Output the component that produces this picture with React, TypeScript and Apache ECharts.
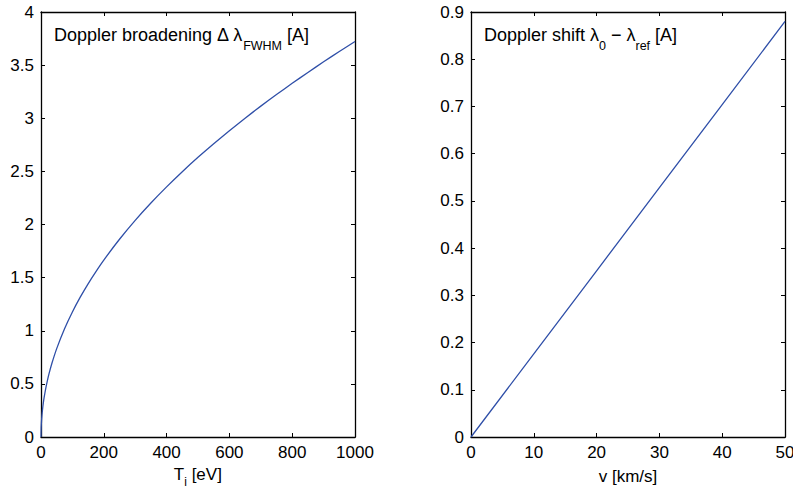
import React, { useEffect, useRef } from "react";
import * as echarts from "echarts";

// Left panel: Doppler broadening vs ion temperature
const tempEV = [0, 0.5, 1, 2, 3, 5, 7, 10, 15, 20, 25, 35, 50, 75, 100, 125, 150, 175, 200, 250, 300, 350, 400, 450, 500, 550, 600, 650, 700, 750, 800, 850, 900, 950, 1000];
const broadening = [0, 0.083, 0.118, 0.166, 0.204, 0.263, 0.311, 0.372, 0.456, 0.526, 0.589, 0.696, 0.832, 1.019, 1.177, 1.316, 1.442, 1.557, 1.665, 1.861, 2.039, 2.202, 2.354, 2.497, 2.632, 2.760, 2.883, 3.001, 3.114, 3.223, 3.329, 3.431, 3.531, 3.628, 3.722];

// Right panel: Doppler shift vs velocity
const velocity = [0, 10, 20, 30, 40, 50];
const shift = [0, 0.176, 0.352, 0.528, 0.704, 0.88];

const FONT = "Liberation Sans, Arial, Helvetica, sans-serif";
const LINE = "#2F4FA8";

function axisCommon(extra: any) {
  return {
    axisLine: { show: true, onZero: false, lineStyle: { color: "#000", width: 1.3 } },
    axisTick: { show: true, inside: true, length: 4, lineStyle: { color: "#000", width: 1 } },
    splitLine: { show: false },
    ...extra,
  };
}

const fmt = (v: number) => String(parseFloat(Number(v).toFixed(3)));

export default function App() {
  const ref = useRef<HTMLDivElement>(null);
  useEffect(() => {
    if (!ref.current) return;
    const chart = echarts.init(ref.current, undefined, { renderer: "svg" });
    const labelStyle = { color: "#000", fontSize: 17, fontFamily: FONT, margin: 7, formatter: fmt };
    const grids = [
      { left: 41, top: 12, width: 314, height: 425, outerBoundsMode: "none", containLabel: false },
      { left: 471, top: 12, width: 314, height: 425, outerBoundsMode: "none", containLabel: false },
    ];
    const xRanges = [
      { min: 0, max: 1000, interval: 200 },
      { min: 0, max: 50, interval: 10 },
    ];
    const yRanges = [
      { min: 0, max: 4, interval: 0.5 },
      { min: 0, max: 0.9, interval: 0.1 },
    ];
    const xNames = ["{a|T}{s|i}{a| [eV]}{z| }", "{a|v [km/s]}"];
    const xAxis: any[] = [];
    const yAxis: any[] = [];
    for (let g = 0; g < 2; g++) {
      xAxis.push(
        axisCommon({
          type: "value",
          gridIndex: g,
          position: "bottom",
          ...xRanges[g],
          axisLabel: { ...labelStyle, showMaxLabel: true, showMinLabel: true },
          name: xNames[g],
          nameLocation: "middle",
          nameGap: g === 0 ? 29 : 31,
          nameTextStyle: {
            fontFamily: FONT,
            rich: {
              a: { fontSize: 17, fontFamily: FONT, color: "#000", lineHeight: 17, verticalAlign: "top" },
              s: { fontSize: 12, fontFamily: FONT, color: "#000", lineHeight: 12, verticalAlign: "bottom" },
              z: { fontSize: 1, lineHeight: 22 },
            },
          },
        })
      );
      xAxis.push(
        axisCommon({
          type: "value",
          gridIndex: g,
          position: "top",
          ...xRanges[g],
          axisLabel: { show: false },
        })
      );
      yAxis.push(
        axisCommon({
          type: "value",
          gridIndex: g,
          position: "left",
          ...yRanges[g],
          axisLabel: { ...labelStyle, showMaxLabel: true, showMinLabel: true },
        })
      );
      yAxis.push(
        axisCommon({
          type: "value",
          gridIndex: g,
          position: "right",
          ...yRanges[g],
          axisLabel: { show: false },
        })
      );
    }

    const richTitle = {
      a: { fontSize: 18, fontFamily: FONT, fill: "#000", lineHeight: 18, verticalAlign: "top" },
      s: { fontSize: 12.5, fontFamily: FONT, fill: "#000", lineHeight: 12.5, verticalAlign: "bottom" },
      z: { fontSize: 1, lineHeight: 26 },
    };

    chart.setOption({
      animation: false,
      backgroundColor: "#fff",
      grid: grids,
      xAxis,
      yAxis,
      series: [
        {
          type: "line",
          xAxisIndex: 0,
          yAxisIndex: 0,
          data: tempEV.map((t, i) => [t, broadening[i]]),
          showSymbol: false,
          smooth: 0.2,
          lineStyle: { color: LINE, width: 1.3 },
        },
        {
          type: "line",
          xAxisIndex: 2,
          yAxisIndex: 2,
          data: velocity.map((v, i) => [v, shift[i]]),
          showSymbol: false,
          lineStyle: { color: LINE, width: 1.3 },
        },
      ],
      graphic: [
        {
          type: "text",
          left: 54,
          top: 26,
          style: {
            text: "{a|Doppler broadening Δ λ}{s|FWHM}{a| [A]}{z| }",
            rich: richTitle,
            fontFamily: FONT,
          },
        },
        {
          type: "text",
          left: 484,
          top: 26,
          style: {
            text: "{a|Doppler shift λ}{s|0}{a| − λ}{s|ref}{a| [A]}{z| }",
            rich: richTitle,
            fontFamily: FONT,
          },
        },
      ],
    });
    return () => chart.dispose();
  }, []);
  return (
    <div
      ref={ref}
      style={{ position: "fixed", left: 0, top: 0, width: 793, height: 489, background: "#fff" }}
    />
  );
}
